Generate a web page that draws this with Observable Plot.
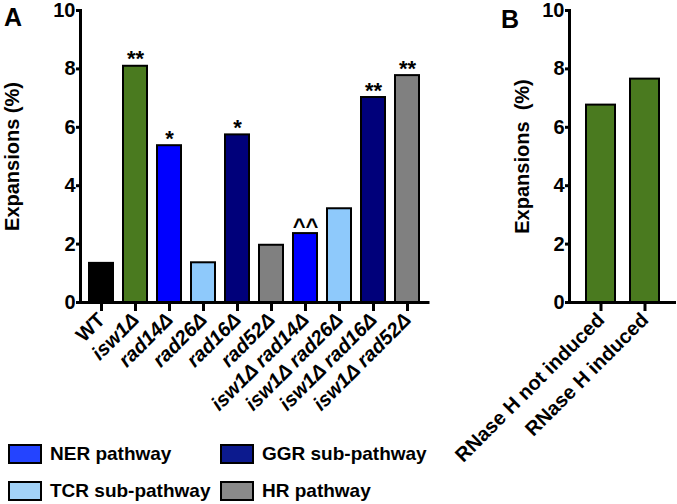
<!DOCTYPE html>
<html><head><meta charset="utf-8">
<script src="https://cdn.jsdelivr.net/npm/d3@7"></script>
<script src="https://cdn.jsdelivr.net/npm/@observablehq/plot@0.6"></script>
<style>
body{margin:0;background:#fff;font-family:"Liberation Sans",Arial,sans-serif;}
#root{position:relative;width:677px;height:504px;overflow:hidden;background:#fff;}
.panel{position:absolute;top:0;}
.letter{position:absolute;font-weight:bold;font-size:25px;line-height:1;}
.leg{position:absolute;display:flex;align-items:center;font-weight:bold;font-size:19px;}
.sw{box-sizing:border-box;width:34px;height:20px;border:2px solid #000;margin-right:8px;}
</style></head><body><div id="root"></div>
<script>
const genotypes = ["WT","isw1Δ","rad14Δ","rad26Δ","rad16Δ","rad52Δ","isw1Δ rad14Δ","isw1Δ rad26Δ","isw1Δ rad16Δ","isw1Δ rad52Δ"];
const expansions = [1.34,8.09,5.37,1.36,5.74,1.96,2.36,3.21,7.02,7.77];
const pathways = ["WT","isw1","NER","TCR","GGR","HR","NER","TCR","GGR","HR"];
const significance = ["","**","*","","*","","^^","","**","**"];
const conditions = ["RNase H not induced","RNase H induced"];
const expansionsB = [6.76,7.65];
const yTicks = [0,2,4,6,8,10];
const groupNames = ["WT","isw1","NER","TCR","GGR","HR"];
const groupColors = ["#000000","#4a7a1f","#0000ff","#8ec9fb","#00007a","#808080"];
const legendLabels = ["NER pathway","GGR sub-pathway","TCR sub-pathway","HR pathway"];
const legendColors = ["#2444ff","#0c1a8e","#a2d2f7","#8a8a8a"];

const font = '"Liberation Sans", Arial, sans-serif';
const root = document.getElementById("root");

const dataA = genotypes.map((g,i)=>({g, v:expansions[i], p:pathways[i], s:significance[i]}));
const dataB = conditions.map((c,i)=>({c, v:expansionsB[i]}));

function yAxisMarks(label, offset){
  return [
    Plot.axisY({ticks:yTicks, tickSize:4, strokeWidth:3, tickPadding:1, fontSize:20, fontWeight:"bold", label:null}),
    Plot.text([label], {text:d=>d, frameAnchor:"left", dx:-offset, rotate:-90, textAnchor:"middle", lineAnchor:"middle", fontSize:20, fontWeight:"bold", fill:"#000"})
  ];
}
const xAxisOpts = {tickSize:9, strokeWidth:3, tickPadding:5, tickRotate:-45, fontSize:20, fontWeight:"bold", label:null};

const plotA = Plot.plot({
  width:460, height:430,
  marginLeft:80, marginRight:32, marginTop:10, marginBottom:128,
  style:{fontFamily:font, color:"#000", background:"transparent", overflow:"visible"},
  x:{domain:genotypes, paddingInner:0.28, paddingOuter:0.16, axis:null},
  y:{domain:[0,10], axis:null},
  color:{domain:groupNames, range:groupColors},
  marks:[
    Plot.barY(dataA, {x:"g", y:"v", fill:"p", stroke:"#000", strokeWidth:2}),
    Plot.text(dataA, {x:"g", y:"v", text:"s", lineAnchor:"bottom", dy:0, fontSize:22, fontWeight:"bold", fill:"#000"}),
    ...yAxisMarks("Expansions (%)", 68),
    Plot.axisX(["WT"], xAxisOpts),
    Plot.axisX(genotypes.slice(1), {...xAxisOpts, fontStyle:"italic"}),
    Plot.ruleY([0], {strokeWidth:3, strokeLinecap:"square"}),
    Plot.frame({anchor:"left", strokeWidth:3})
  ]
});
plotA.classList.add("panel");
plotA.style.left = "0px";
root.appendChild(plotA);

const plotB = Plot.plot({
  width:217, height:504,
  marginLeft:109, marginRight:1, marginTop:10, marginBottom:202,
  style:{fontFamily:font, color:"#000", background:"transparent", overflow:"visible"},
  x:{domain:conditions, paddingInner:0.333, paddingOuter:0.356, axis:null},
  y:{domain:[0,10], axis:null},
  marks:[
    Plot.barY(dataB, {x:"c", y:"v", fill:groupColors[1], stroke:"#000", strokeWidth:2}),
    ...yAxisMarks("Expansions  (%)", 47),
    Plot.axisX(xAxisOpts),
    Plot.ruleY([0], {strokeWidth:3}),
    Plot.frame({anchor:"left", strokeWidth:3})
  ]
});
plotB.classList.add("panel");
plotB.style.left = "460px";
root.appendChild(plotB);

// panel letters
[["A",4,5],["B",501,7]].forEach(([t,x,y])=>{
  const d=document.createElement("div"); d.className="letter"; d.textContent=t;
  d.style.left=x+"px"; d.style.top=y+"px"; root.appendChild(d);
});

// legend
const legPos = [[8,443],[220,443],[8,480],[220,480]];
legendLabels.forEach((l,i)=>{
  const d=document.createElement("div"); d.className="leg";
  d.style.left=legPos[i][0]+"px"; d.style.top=legPos[i][1]+"px";
  const s=document.createElement("div"); s.className="sw"; s.style.background=legendColors[i];
  const t=document.createElement("span"); t.textContent=l;
  d.appendChild(s); d.appendChild(t); root.appendChild(d);
});
</script></body></html>
